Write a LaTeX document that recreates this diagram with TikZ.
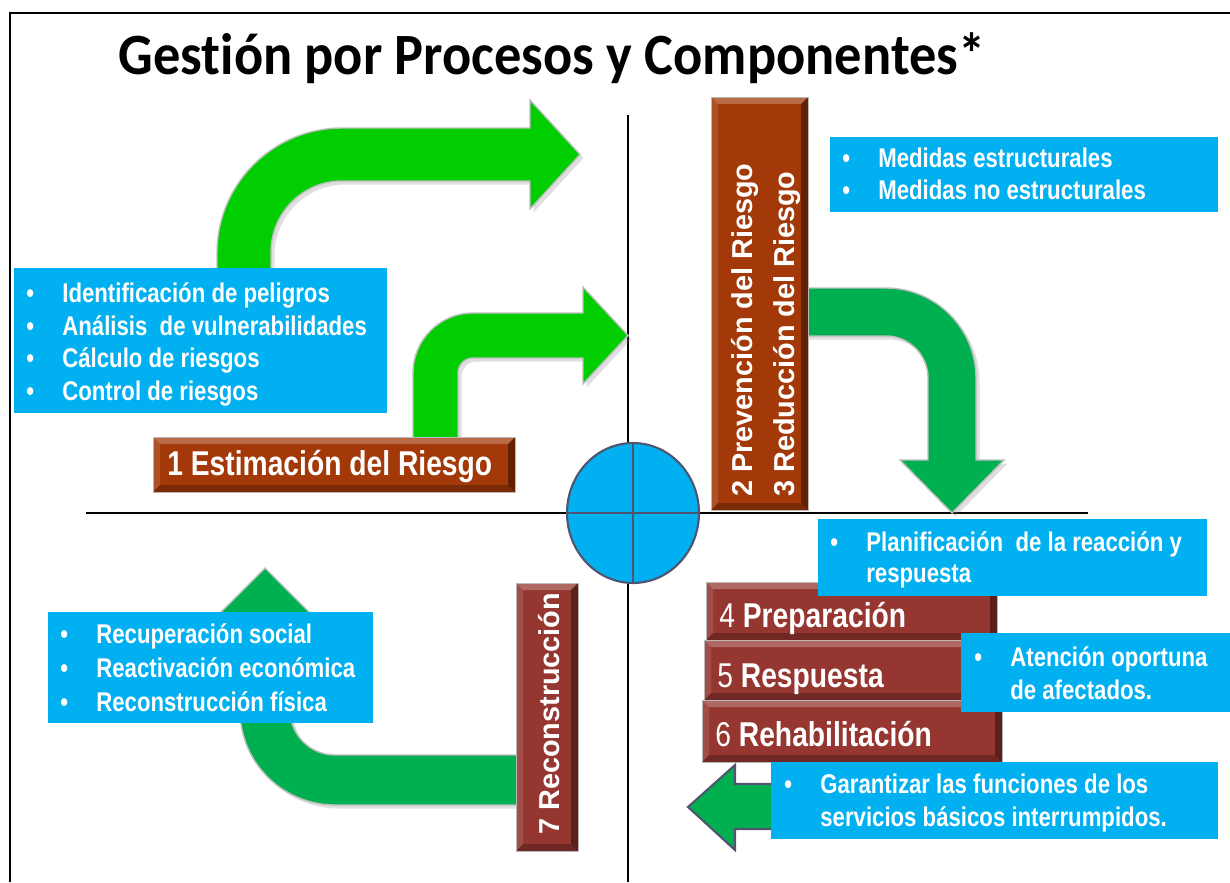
\documentclass[tikz,border=0pt]{standalone}
\usepackage{fontspec}
\setmainfont{Liberation Sans}
\newfontfamily\titlefont[Ligatures=NoCommon, FakeStretch=0.93]{Carlito}
\newfontfamily\narrowfont[FakeStretch=0.82]{Liberation Sans}
\usetikzlibrary{fit,shadows,shapes.geometric}

\definecolor{skyfill}{RGB}{0,176,240}
\definecolor{limegreen}{RGB}{0,206,0}
\definecolor{leafgreen}{RGB}{0,176,80}
\definecolor{rust}{RGB}{163,57,8}
\definecolor{maroonbox}{RGB}{149,54,48}
\definecolor{slate}{RGB}{79,84,112}

\newcommand{\bb}{path picture bounding box}
\newcommand{\bt}{\makebox[0.72cm][l]{•}}

\tikzset{
  axis/.style={line width=1.5pt},
  bluebox/.style={fill=skyfill, inner sep=0pt},
  bul/.style={anchor=base west, inner sep=0pt, text=white,
    font=\narrowfont\bfseries\fontsize{15.4}{18}\selectfont},
  boxlabel/.style={anchor=base west, inner sep=0pt, text=white,
    font=\narrowfont\bfseries\fontsize{19.6}{22}\selectfont},
  rotlabel/.style={rotate=90, anchor=base west, inner sep=0pt, text=white,
    font=\bfseries\fontsize{16.4}{19}\selectfont},
  bevel/.style={fill=#1, draw=gray!55, line width=0.5pt, inner sep=0pt,
    path picture={
      \fill[white, opacity=0.25] (\bb.north west) -- (\bb.north east)
        -- ([shift={(-0.14cm,-0.14cm)}]\bb.north east)
        -- ([shift={(0.14cm,-0.14cm)}]\bb.north west) -- cycle;
      \fill[white, opacity=0.12] (\bb.north west) -- ([shift={(0.14cm,-0.14cm)}]\bb.north west)
        -- ([shift={(0.14cm,0.14cm)}]\bb.south west) -- (\bb.south west) -- cycle;
      \fill[black, opacity=0.25] (\bb.south west) -- ([shift={(0.14cm,0.14cm)}]\bb.south west)
        -- ([shift={(-0.14cm,0.14cm)}]\bb.south east) -- (\bb.south east) -- cycle;
      \fill[black, opacity=0.4] (\bb.south east) -- ([shift={(-0.14cm,0.14cm)}]\bb.south east)
        -- ([shift={(-0.14cm,-0.14cm)}]\bb.north east) -- (\bb.north east) -- cycle;
    }},
  greenarrow/.style={fill=#1, draw=gray!50, line width=0.8pt,
    drop shadow={opacity=0.25, shadow xshift=0.07cm, shadow yshift=-0.07cm}},
}

\begin{document}
\begin{tikzpicture}[x=0.02cm, y=-0.02cm]
  \useasboundingbox (0,0) rectangle (1230,882);
  \draw [line width=1.4pt] (10,882) -- (10,13) -- (1230,13);

  \node (title) [anchor=base, inner sep=0pt, font=\titlefont\bfseries\fontsize{33.3}{40}\selectfont]
    at (552,75) {Gestión por Procesos y Componentes*};

  \draw [axis] (86,513) -- (1088,513);
  \draw [axis] (628,115) -- (628,882);

  \filldraw [greenarrow=limegreen] (217,275) -- (217,253) arc[start angle=180, end angle=270, radius=125]
    -- (530,128) -- (530,100) -- (580,154.5) -- (530,209) -- (530,181) -- (342,181)
    arc[start angle=270, end angle=180, radius=71] -- (271,275) -- cycle;
  \filldraw [greenarrow=limegreen] (413,445) -- (413,373) arc[start angle=180, end angle=270, radius=60]
    -- (583,313) -- (583,287) -- (628,335.5) -- (583,384) -- (583,358) -- (473,358)
    arc[start angle=270, end angle=180, radius=15] -- (458,445) -- cycle;
  \filldraw [greenarrow=leafgreen] (805,288) -- (886,288) arc[start angle=270, end angle=360, radius=90]
    -- (976,460) -- (1004,460) -- (952,513) -- (900,460) -- (928,460) -- (928,378)
    arc[start angle=0, end angle=-90, radius=42] -- (805,336) -- cycle;
  \filldraw [greenarrow=leafgreen] (520,755) -- (335,755) arc[start angle=90, end angle=180, radius=45]
    -- (290,623) -- (320,623) -- (265,568) -- (210,623) -- (240,623) -- (240,710)
    arc[start angle=180, end angle=90, radius=95] -- (520,805) -- cycle;
  \filldraw [fill=leafgreen, draw=slate, line width=1.2pt] (780,784) -- (735,784) -- (735,765)
    -- (688,807) -- (735,850) -- (735,829) -- (780,829) -- cycle;

  \node (hub) [ellipse, fill=skyfill, draw=slate, line width=1.2pt, minimum width=2.64cm,
    minimum height=2.8cm, inner sep=0pt] at (633,513) {};
  \draw [slate, line width=0.9pt] (hub.north) -- (hub.south);
  \draw [slate, line width=0.9pt] (hub.west) -- (hub.east);

  \node (estim) [bevel=rust, fit={(153,437) (515,492)}] {};
  \node (estimtxt) [boxlabel] at (167,475) {1 Estimación del Riesgo};

  \node (prev) [bevel=rust, fit={(711,97) (808,510)}] {};
  \node (prevtxt) [rotlabel] at (752,497) {2 Prevención del Riesgo};
  \node (redtxt) [rotlabel] at (794,497) {3 Reducción del Riesgo};

  \node (recon) [bevel=maroonbox, fit={(516,583) (578,851)}] {};
  \node (recontxt) [rotlabel] at (559,835) {7 Reconstrucción};

  \node (prep) [bevel=maroonbox, fit={(706,582) (997,640)}] {};
  \node (resp) [bevel=maroonbox, fit={(704,640) (999,700)}] {};
  \node (rehab) [bevel=maroonbox, fit={(702,700) (1002,762)}] {};
  \node (preptxt) [boxlabel] at (719,627) {{\mdseries 4} Preparación};
  \node (resptxt) [boxlabel] at (717,687) {{\mdseries 5} Respuesta};
  \node (rehabtxt) [boxlabel] at (715,746) {{\mdseries 6} Rehabilitación};

  \node (idbox) [bluebox, fit={(14,268) (387,413)}] {};
  \node (id1) [bul] at (26,302) {\bt Identificación de peligros};
  \node (id2) [bul] at (26,335) {\bt Análisis\ \ de vulnerabilidades};
  \node (id3) [bul] at (26,367) {\bt Cálculo de riesgos};
  \node (id4) [bul] at (26,400) {\bt Control de riesgos};

  \node (medbox) [bluebox, fit={(830,137) (1218,212)}] {};
  \node (med1) [bul] at (842,167) {\bt Medidas estructurales};
  \node (med2) [bul] at (842,199) {\bt Medidas no estructurales};

  \node (planbox) [bluebox, fit={(818,519) (1207,596)}] {};
  \node (plan1) [bul] at (830,551) {\bt Planificación\ \ de la reacción y};
  \node (plan2) [bul] at (866,582) {respuesta};

  \node (atbox) [bluebox, fit={(961,633) (1230,712)}] {};
  \node (at1) [bul] at (974,666) {\bt Atención oportuna};
  \node (at2) [bul] at (1010,699) {de afectados.};

  \node (garbox) [bluebox, fit={(771,762) (1218,839)}] {};
  \node (gar1) [bul] at (784,793) {\bt Garantizar las funciones de los};
  \node (gar2) [bul] at (820,826) {servicios básicos interrumpidos.};

  \node (recbox) [bluebox, fit={(48,612) (373,723)}] {};
  \node (rec1) [bul] at (60,643) {\bt Recuperación social};
  \node (rec2) [bul] at (60,677) {\bt Reactivación económica};
  \node (rec3) [bul] at (60,711) {\bt Reconstrucción física};
\end{tikzpicture}
\end{document}
